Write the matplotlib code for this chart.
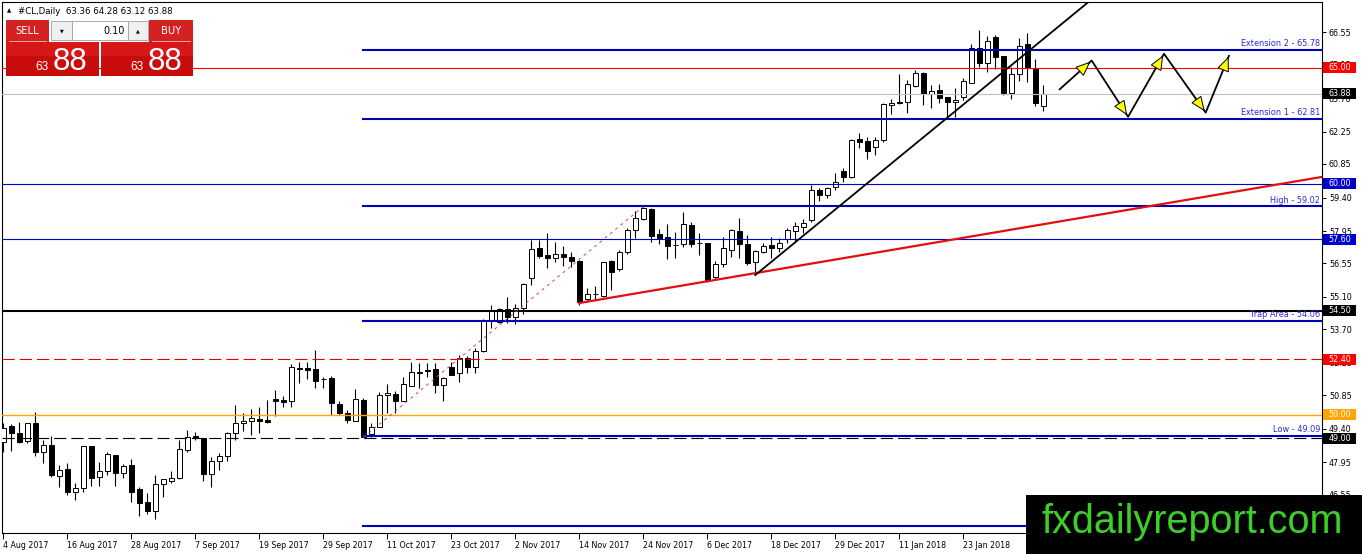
import matplotlib
matplotlib.use("Agg")
import matplotlib.pyplot as plt
import matplotlib.transforms as mtransforms
from matplotlib.patches import Rectangle, Polygon
import numpy as np

W, H = 1362, 554

# daily OHLC, #CL, 4 Aug 2017 .. 6 Feb 2018
opens = [48.85, 49.52, 49.23, 48.89, 49.64, 48.41, 48.70, 47.38, 47.67, 46.68,
         46.83, 48.66, 47.33, 47.58, 48.27, 47.50, 47.84, 46.80, 46.23, 45.86,
         47.00, 47.16, 47.26, 48.49, 49.09, 48.99, 47.45, 48.03, 48.23, 49.23,
         49.64, 49.75, 49.81, 49.78, 50.68, 50.65, 50.61, 51.99, 52.03, 51.99,
         51.54, 51.61, 50.48, 50.07, 49.75, 50.65, 49.17, 49.49, 50.86, 50.91,
         50.62, 51.27, 51.83, 51.94, 51.97, 51.30, 52.09, 51.80, 52.45, 52.09,
         52.77, 54.06, 54.03, 54.57, 54.22, 54.61, 55.91, 57.21, 56.92, 56.77,
         56.95, 56.82, 56.66, 55.00, 55.22, 55.16, 56.66, 56.30, 57.06, 58.00,
         58.47, 58.90, 57.82, 57.68, 57.35, 57.38, 58.21, 57.42, 57.42, 55.95,
         56.53, 57.13, 57.97, 57.39, 56.63, 57.06, 57.35, 57.21, 57.60, 57.97,
         58.11, 58.43, 59.73, 59.51, 59.84, 60.56, 60.30, 61.93, 61.86, 61.57,
         61.89, 63.40, 63.54, 63.54, 64.22, 64.80, 63.88, 64.05, 63.73, 63.53,
         63.76, 64.36, 65.85, 65.20, 66.35, 65.52, 63.93, 64.73, 66.04, 65.01,
         63.36]
highs = [49.65, 49.60, 49.68, 49.66, 50.12, 48.92, 49.09, 47.84, 47.91, 47.07,
         48.68, 48.68, 47.98, 48.41, 48.29, 47.88, 48.10, 46.87, 46.64, 47.39,
         47.25, 47.59, 48.92, 49.35, 49.28, 49.01, 48.20, 48.37, 49.28, 50.43,
         50.07, 50.25, 50.33, 50.65, 51.08, 50.82, 52.20, 52.30, 52.30, 52.81,
         51.66, 51.69, 50.62, 50.22, 51.11, 50.72, 49.67, 51.01, 51.34, 51.05,
         51.66, 52.30, 52.26, 52.26, 52.26, 51.66, 52.30, 52.59, 52.55, 52.88,
         54.15, 54.75, 54.61, 55.11, 54.78, 55.69, 57.56, 57.56, 57.85, 57.47,
         57.31, 57.06, 56.68, 55.50, 55.59, 56.63, 56.68, 57.13, 58.10, 58.82,
         59.01, 58.94, 58.04, 58.24, 57.92, 58.79, 58.36, 57.85, 57.44, 56.67,
         57.71, 58.03, 58.50, 57.78, 57.13, 57.45, 57.71, 57.64, 58.07, 58.36,
         58.46, 59.94, 59.80, 59.87, 60.47, 60.66, 61.92, 62.18, 62.00, 62.03,
         63.47, 63.65, 64.74, 64.48, 64.91, 64.82, 64.27, 64.31, 63.75, 64.12,
         64.55, 66.04, 66.64, 66.38, 66.43, 65.52, 65.06, 66.28, 66.50, 65.38,
         64.28]
lows = [48.41, 48.46, 48.78, 48.78, 48.23, 47.91, 47.33, 46.90, 46.54, 46.32,
        46.68, 46.93, 46.93, 47.41, 46.93, 47.26, 46.25, 45.63, 45.72, 45.49,
        46.47, 47.07, 47.24, 48.41, 48.92, 47.16, 46.90, 47.62, 48.02, 48.92,
        49.32, 49.14, 49.21, 49.64, 49.96, 50.33, 50.33, 51.37, 51.56, 51.15,
        51.15, 49.99, 49.99, 49.64, 49.75, 49.03, 49.06, 49.47, 50.10, 50.10,
        50.62, 51.27, 51.15, 51.66, 50.96, 50.62, 51.73, 51.44, 51.80, 51.83,
        52.72, 53.76, 53.96, 53.96, 53.92, 54.35, 55.62, 56.77, 56.34, 56.63,
        56.45, 56.41, 54.75, 54.90, 54.97, 55.11, 55.40, 56.22, 56.95, 57.66,
        58.43, 57.49, 57.38, 56.73, 56.80, 57.27, 57.27, 56.92, 55.76, 55.84,
        56.41, 56.84, 56.77, 56.48, 56.05, 56.99, 56.77, 57.06, 57.42, 57.53,
        57.85, 58.36, 59.26, 59.37, 59.73, 60.09, 60.23, 61.53, 61.05, 61.24,
        61.80, 63.01, 63.44, 63.07, 64.19, 63.40, 63.26, 63.47, 62.83, 62.89,
        63.62, 64.34, 65.03, 64.84, 64.94, 63.83, 63.65, 64.44, 64.41, 63.37,
        63.12]
closes = [49.42, 49.21, 48.85, 49.64, 48.41, 48.70, 47.41, 47.62, 46.68, 46.83,
          48.66, 47.29, 47.58, 48.31, 47.50, 47.79, 46.68, 46.21, 45.86, 47.00,
          47.23, 47.26, 48.52, 49.06, 49.00, 47.45, 48.01, 48.24, 49.21, 49.64,
          49.74, 49.86, 49.74, 49.70, 50.59, 50.56, 52.06, 52.03, 51.94, 51.48,
          51.57, 50.51, 50.10, 49.78, 50.68, 49.06, 49.47, 50.86, 50.96, 50.62,
          51.34, 51.85, 51.87, 51.89, 51.30, 51.59, 51.73, 52.45, 52.09, 52.78,
          54.08, 54.54, 54.57, 54.22, 54.64, 55.65, 57.16, 56.87, 56.77, 56.95,
          56.83, 56.67, 54.87, 55.22, 55.25, 56.60, 56.17, 57.03, 58.00, 58.50,
          58.94, 57.75, 57.66, 57.32, 57.33, 58.24, 57.38, 57.44, 55.84, 56.53,
          57.21, 58.00, 57.39, 56.58, 57.10, 57.31, 57.23, 57.45, 58.00, 58.17,
          58.29, 59.73, 59.51, 59.80, 60.09, 60.27, 61.89, 61.81, 61.43, 61.89,
          63.44, 63.50, 63.47, 64.31, 64.80, 63.88, 64.02, 63.69, 63.54, 63.62,
          64.44, 65.85, 65.20, 66.18, 65.46, 63.91, 64.73, 65.95, 65.03, 63.47,
          63.88]

date_labels = ["4 Aug 2017", "16 Aug 2017", "28 Aug 2017", "7 Sep 2017",
               "19 Sep 2017", "29 Sep 2017", "11 Oct 2017", "23 Oct 2017",
               "2 Nov 2017", "14 Nov 2017", "24 Nov 2017", "6 Dec 2017",
               "18 Dec 2017", "29 Dec 2017", "11 Jan 2018", "23 Jan 2018"]
price_ticks = [46.55, 47.95, 49.40, 50.85, 52.25, 53.70, 55.10, 56.55,
               57.95, 59.40, 60.85, 62.25, 63.70, 65.15, 66.55]

# horizontal levels across the whole chart
levels = [65.00, 63.88, 60.00, 57.60, 54.50, 52.40, 50.00, 49.00]
level_colors = ["#ff0000", "#c0c0c0", "#0000cd", "#0000cd", "#000000",
                "#e00000", "#ffa500", "#000000"]
level_tags = ["#ff0000", "#000000", "#0000cd", "#0000cd", "#000000",
              "#ff0000", "#ffa500", "#000000"]
level_styles = ["-", "-", "-", "-", "-", (0, (11, 4.5)), "-", (0, (11, 4.5))]
level_widths = [0.8, 0.8, 0.8, 0.8, 1.5, 0.8, 1.0, 0.8]

# fibo expansion levels, drawn from the swing low onward
fib_levels = [65.78, 62.81, 59.02, 54.06, 49.09, 45.22]
fib_names = ["Extension 2", "Extension 1", "High", "Trap Area", "Low", ""]
fib_start = 45

# trend lines (bar index, price)
red_trend = [(72, 54.84), (165, 60.30)]
black_trend = [(94, 56.05), (136, 67.95)]
swing_line = [(45, 49.03), (80, 59.01)]

# projected zig-zag arrows
arrow_x = [131.96, 136.05, 140.6, 145.09, 150.3, 153.25]
arrow_y = [64.05, 65.32, 62.89, 65.61, 63.07, 65.56]


def fx(x):
    return x / W


def fy(y):
    return 1 - y / H


fig = plt.figure(figsize=(W / 100, H / 100), dpi=100)
fig.patch.set_facecolor("white")
ax = fig.add_axes([fx(2), fy(533), (1322 - 2) / W, (533 - 2) / H])
ax.set_xlim((2 - 3.3) / 8, (1322 - 3.3) / 8)
ax.set_ylim(44.90, 67.85)

# candles
idx = np.arange(len(opens))
o = np.array(opens)
c = np.array(closes)
ax.vlines(idx, lows, highs, color="black", lw=0.8, zorder=2)
bottoms = np.minimum(o, c)
heights = np.maximum(np.abs(c - o), 0.03)
face = ["white" if cc >= oo else "black" for oo, cc in zip(o, c)]
ax.bar(idx, heights, bottom=bottoms, width=0.58, color=face,
       edgecolor="black", linewidth=0.7, zorder=3)

# horizontal lines
for lv, col, ls, lw in zip(levels, level_colors, level_styles, level_widths):
    ax.axhline(lv, color=col, ls=ls, lw=lw, zorder=4)

x_end = ax.get_xlim()[1]
for lv, name in zip(fib_levels, fib_names):
    ax.plot([fib_start, x_end], [lv, lv], color="#0000b4", lw=1.5, zorder=4)
    if name:
        ax.annotate(f"{name} - {lv:.2f}", xy=(x_end, lv), xytext=(-1.5, 1.2),
                    textcoords="offset points", ha="right", va="bottom",
                    fontsize=5.9, color="#2a2ad8", zorder=6)

ax.plot(*zip(*swing_line), color="#d8406a", lw=0.7, ls=(0, (3, 4)), zorder=4)
ax.plot(*zip(*red_trend), color="#e01010", lw=1.6, zorder=5)
ax.plot(*zip(*black_trend), color="black", lw=1.3, zorder=5)

# zig-zag arrows with yellow heads
ax.plot(arrow_x, arrow_y, color="black", lw=1.3, zorder=6, solid_capstyle="butt")
to_px = ax.transData
from_px = ax.transData.inverted()
for i in range(1, len(arrow_x)):
    p0 = to_px.transform((arrow_x[i - 1], arrow_y[i - 1]))
    p1 = to_px.transform((arrow_x[i], arrow_y[i]))
    d = (p1 - p0) / np.hypot(*(p1 - p0))
    nrm = np.array([-d[1], d[0]])
    tip = p1 - d * 3
    base = tip - d * 13
    pts = [tip, base + nrm * 5.5, base - nrm * 5.5]
    pts = from_px.transform(pts)
    ax.add_patch(Polygon(pts, closed=True, fc="#ffff00", ec="black",
                         lw=0.7, zorder=7))

# axes look
for sp in ax.spines.values():
    sp.set_color("black")
    sp.set_linewidth(0.8)
ax.yaxis.tick_right()
ax.set_yticks(price_ticks)
ax.set_yticklabels([f"{t:.2f}" for t in price_ticks])
ax.tick_params(axis="y", direction="out", length=3, width=0.7, labelsize=5.8,
               pad=2, colors="black")
ax.set_xticks(np.arange(len(date_labels)) * 8)
ax.set_xticklabels(date_labels, ha="left")
ax.tick_params(axis="x", direction="out", length=4, width=0.7, labelsize=5.7,
               pad=2)

# price tags on the right scale
blend = mtransforms.blended_transform_factory(ax.transAxes, ax.transData)
tag_w = 33 / 1320
tag_h = 11 * (67.85 - 44.90) / 531
for lv, col in zip(levels, level_tags):
    ax.add_patch(Rectangle((1 + 1 / 1320, lv - tag_h / 2), tag_w, tag_h,
                           transform=blend, fc=col, ec="none",
                           clip_on=False, zorder=10))
    ax.text(1 + 1 / 1320 + tag_w / 2, lv, f"{lv:.2f}", transform=blend,
            ha="center", va="center", fontsize=5.8, color="white",
            zorder=11, clip_on=False)

# header and one-click trading panel
fig.text(fx(7), fy(11), "\u25b2", fontsize=4, va="center", ha="left")
fig.text(fx(18), fy(11), "#CL,Daily  63.36 64.28 63.12 63.88", fontsize=6.2,
         va="center", ha="left")


def px_rect(x0, y0, x1, y1, **kw):
    r = Rectangle((fx(x0), fy(y1)), (x1 - x0) / W, (y1 - y0) / H,
                  transform=fig.transFigure, zorder=20, **kw)
    fig.add_artist(r)


px_rect(6, 20, 49, 42, fc="#d42222", ec="none")
px_rect(149, 20, 193, 42, fc="#d42222", ec="none")
px_rect(6, 42, 99, 76, fc="#c80c0c", ec="none")
px_rect(101, 42, 193, 76, fc="#c80c0c", ec="none")
px_rect(6, 42, 99, 56, fc="#d81818", ec="none")
px_rect(101, 42, 193, 56, fc="#d81818", ec="none")
px_rect(9, 41, 47, 41.8, fc="#f2a0a0", ec="none")
px_rect(152, 41, 191, 41.8, fc="#f2a0a0", ec="none")
px_rect(51, 21, 72, 40, fc="#f0f0f0", ec="#a0a0a0", lw=0.6)
px_rect(72, 21, 128, 40, fc="white", ec="#a0a0a0", lw=0.6)
px_rect(128, 21, 148, 40, fc="#f0f0f0", ec="#a0a0a0", lw=0.6)

fig.text(fx(27.5), fy(31), "SELL", color="white", fontsize=7.2,
         ha="center", va="center", zorder=21)
fig.text(fx(171), fy(31), "BUY", color="white", fontsize=7.2,
         ha="center", va="center", zorder=21)
fig.text(fx(61.5), fy(30.5), "\u25bc", fontsize=3.5, ha="center",
         va="center", zorder=21)
fig.text(fx(138), fy(30.5), "\u25b2", fontsize=3.5, ha="center",
         va="center", zorder=21)
fig.text(fx(125), fy(31), "0.10", fontsize=7, ha="right", va="center",
         zorder=21)
for bx in (35, 130):
    fig.text(fx(bx), fy(70), "63", fontsize=8.5, color="white",
             family="Liberation Sans", ha="left", va="baseline", zorder=21)
    fig.text(fx(bx + 18), fy(69.5), "88", fontsize=22.5, color="white",
             family="Liberation Sans", ha="left", va="baseline", zorder=21)

# watermark
px_rect(1026, 495, 1362, 554, fc="black", ec="none")
fig.text(fx(1192), fy(533), "fxdailyreport.com", fontsize=28.5,
         color="#3ccf2a", family="Liberation Sans", ha="center",
         va="baseline", zorder=21)

fig.savefig("out.png", dpi=100)
